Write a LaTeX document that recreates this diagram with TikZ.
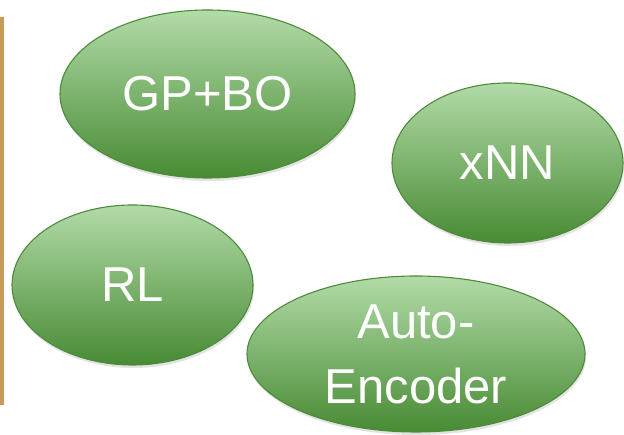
\documentclass[tikz,border=0pt]{standalone}
\usepackage{fontspec}
\setmainfont{Liberation Sans}
\usetikzlibrary{shapes.geometric,shadows}

\definecolor{leaftop}{RGB}{178,219,168}
\definecolor{leafbot}{RGB}{72,139,52}
\definecolor{leafrim}{RGB}{78,138,58}
\definecolor{barbrown}{RGB}{200,155,92}

\tikzset{
  method/.style={ellipse, draw=leafrim, line width=1.1pt,
    top color=leaftop, bottom color=leafbot, inner sep=0pt,
    text=white, font=\fontsize{49}{65}\selectfont, align=center,
    drop shadow={opacity=0.22, shadow xshift=1pt, shadow yshift=-3pt}},
}

\begin{document}
\begin{tikzpicture}[x=1pt,y=1pt]

\useasboundingbox (0,0) rectangle (624,435);

% side bar
\fill[barbrown] (0,30) rectangle (3.5,418);

% methods
\node[method, minimum width=295pt, minimum height=168pt] (gpbo) at (207.5,341) {GP+BO};
\node[method, minimum width=231pt, minimum height=160pt] (xnn) at (507.5,272) {xNN};
\node[method, minimum width=241pt, minimum height=160pt] (rl) at (132.5,150) {RL};
\node[method, minimum width=338pt, minimum height=156pt] (ae) at (416,81) {Auto-\\Encoder};

\end{tikzpicture}
\end{document}
